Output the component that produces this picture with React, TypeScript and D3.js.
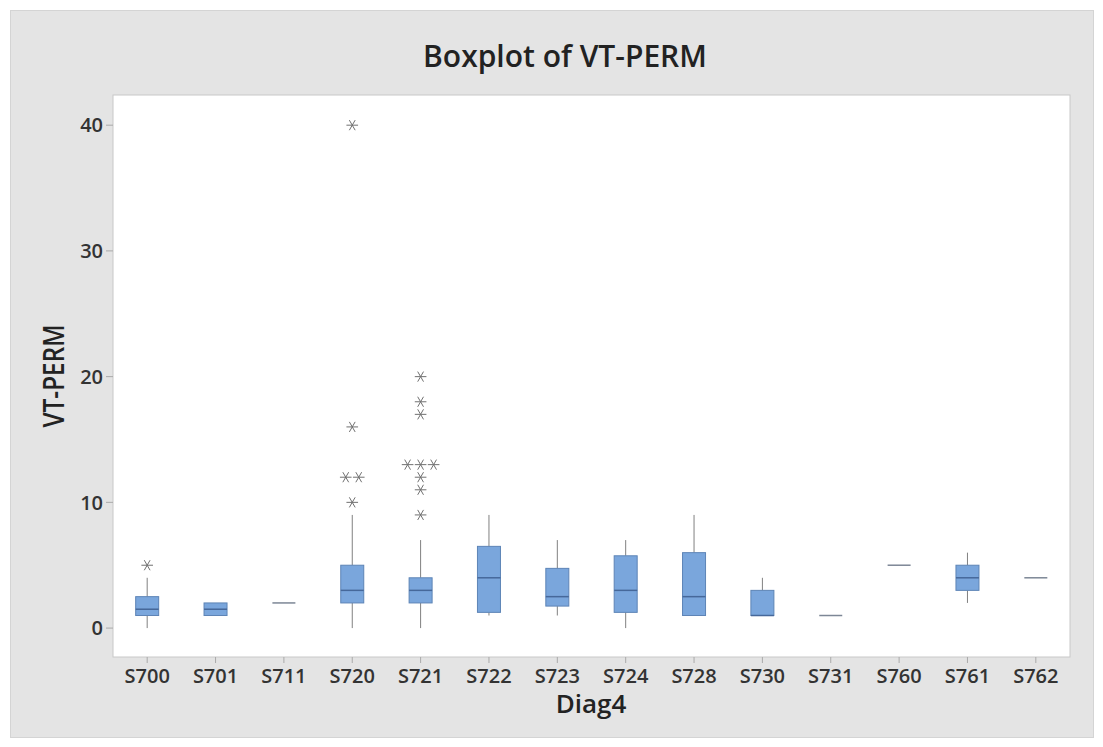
import * as d3 from "d3";

const categories = ["S700", "S701", "S711", "S720", "S721", "S722", "S723", "S724", "S728", "S730", "S731", "S760", "S761", "S762"];
const q1 = [1, 1, 2, 2, 2, 1.25, 1.75, 1.25, 1, 1, 1, 5, 3, 4];
const medians = [1.5, 1.5, 2, 3, 3, 4, 2.5, 3, 2.5, 1, 1, 5, 4, 4];
const q3 = [2.5, 2, 2, 5, 4, 6.5, 4.75, 5.75, 6, 3, 1, 5, 5, 4];
const whiskerLow = [0, 1, 2, 0, 0, 1, 1, 0, 1, 1, 1, 5, 2, 4];
const whiskerHigh = [4, 2, 2, 9, 7, 9, 7, 7, 9, 4, 1, 5, 6, 4];
const outliers = [[5], [], [], [10, 12, 12, 16, 40], [9, 11, 12, 13, 13, 13, 17, 18, 20], [], [], [], [], [], [], [], [], []];
const yTicks = [0, 10, 20, 30, 40];

const W = 1103;
const H = 747;
const plot = { left: 113, right: 1070, top: 95, bottom: 657 };
const font = "'Open Sans', 'Noto Sans', sans-serif";

export default function App() {
  const x = d3.scaleBand().domain(categories).range([plot.left, plot.right]);
  const y = d3.scaleLinear().domain([-2.3, 42.4]).range([plot.bottom, plot.top]);
  const boxW = 23;
  const star = d3.symbol().type(d3.symbolAsterisk).size(95)();

  return (
    <svg width={W} height={H} style={{ position: "absolute", left: 0, top: 0 }}>
      <rect x={0} y={0} width={W} height={H} fill="#ffffff" />
      <rect x={10.5} y={10.5} width={1083} height={727} fill="#e4e4e4" stroke="#d4d4d4" />
      <rect x={plot.left} y={plot.top} width={plot.right - plot.left} height={plot.bottom - plot.top} fill="#ffffff" stroke="#c8c8c8" />

      <text x={565} y={67} textAnchor="middle" fontFamily={font} fontWeight={600} fontSize={30} fill="#222">
        Boxplot of VT-PERM
      </text>

      {/* y axis */}
      {yTicks.map((t) => (
        <g key={t}>
          <line x1={plot.left - 7} x2={plot.left} y1={y(t)} y2={y(t)} stroke="#aaa" />
          <text x={plot.left - 10} y={y(t)} dy="0.36em" textAnchor="end" fontFamily={font} fontWeight={600} fontSize={20} fill="#333">
            {t}
          </text>
        </g>
      ))}
      <text transform={`translate(64,376) rotate(-90)`} textAnchor="middle" fontFamily={font} fontWeight={600} fontSize={28} textLength={103} lengthAdjust="spacingAndGlyphs" fill="#222">
        VT-PERM
      </text>

      {/* x axis */}
      {categories.map((c) => {
        const cx = x(c)! + x.bandwidth() / 2;
        return (
          <g key={c}>
            <line x1={cx} x2={cx} y1={plot.bottom} y2={plot.bottom + 6} stroke="#aaa" />
            <text x={cx} y={683} textAnchor="middle" fontFamily={font} fontWeight={600} fontSize={20} fill="#333">
              {c}
            </text>
          </g>
        );
      })}
      <text x={591} y={713} textAnchor="middle" fontFamily={font} fontWeight={600} fontSize={26} fill="#222">
        Diag4
      </text>

      {/* boxes */}
      {categories.map((c, i) => {
        const cx = x(c)! + x.bandwidth() / 2;
        const flat = q1[i] === q3[i];
        const counts = new Map<number, number>();
        const totals = d3.rollup(outliers[i], (v) => v.length, (d) => d);
        return (
          <g key={c}>
            {whiskerHigh[i] > q3[i] && (
              <line x1={cx} x2={cx} y1={y(q3[i])} y2={y(whiskerHigh[i])} stroke="#808080" />
            )}
            {whiskerLow[i] < q1[i] && (
              <line x1={cx} x2={cx} y1={y(q1[i])} y2={y(whiskerLow[i])} stroke="#808080" />
            )}
            {flat ? (
              <line x1={cx - boxW / 2} x2={cx + boxW / 2} y1={y(medians[i])} y2={y(medians[i])} stroke="#7d8796" strokeWidth={1.5} />
            ) : (
              <>
                <rect x={cx - boxW / 2} y={y(q3[i])} width={boxW} height={y(q1[i]) - y(q3[i])} fill="#7aa6dc" stroke="#5d84b6" />
                <line x1={cx - boxW / 2} x2={cx + boxW / 2} y1={y(medians[i])} y2={y(medians[i])} stroke="#46689a" strokeWidth={1.5} />
              </>
            )}
            {outliers[i].map((v, j) => {
              const k = counts.get(v) ?? 0;
              counts.set(v, k + 1);
              const n = totals.get(v) ?? 1;
              const off = (k - (n - 1) / 2) * 13;
              return (
                <path key={j} d={star} transform={`translate(${cx + off},${y(v)}) rotate(90)`} fill="none" stroke="#707070" strokeWidth={1} />
              );
            })}
          </g>
        );
      })}
    </svg>
  );
}
